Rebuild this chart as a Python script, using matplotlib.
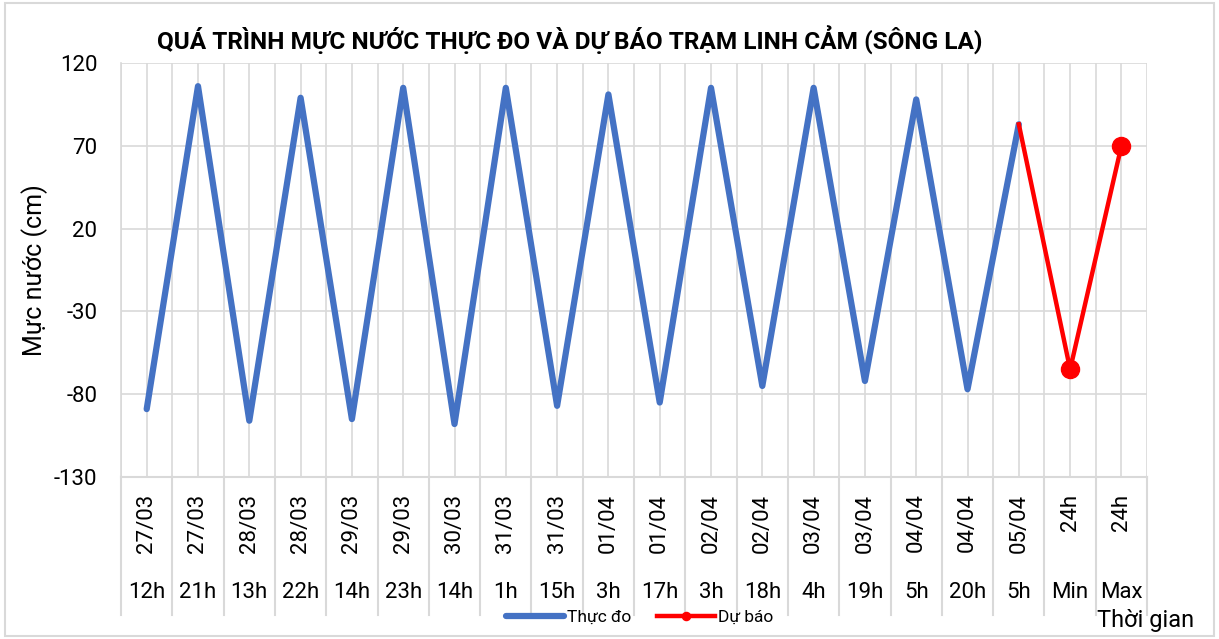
import numpy as np
import matplotlib
matplotlib.use("Agg")
import matplotlib.pyplot as plt
from matplotlib.patches import Rectangle

# font co dau tieng Viet
plt.rcParams["font.family"] = ["Roboto", "Noto Sans", "DejaVu Sans"]
plt.rcParams["axes.unicode_minus"] = False

# nhan truc hoanh (2 cap)
ngay = ["27/03", "27/03", "28/03", "28/03", "29/03", "29/03", "30/03", "31/03", "31/03", "01/04",
        "01/04", "02/04", "02/04", "03/04", "03/04", "04/04", "04/04", "05/04", "24h", "24h"]
gio = ["12h", "21h", "13h", "22h", "14h", "23h", "14h", "1h", "15h", "3h",
       "17h", "3h", "18h", "4h", "19h", "5h", "20h", "5h", "Min", "Max"]

# muc nuoc thuc do (cm)
thuc_do = [-89, 106, -96, 99, -95, 105, -98, 105, -87, 101,
           -85, 105, -75, 105, -72, 98, -77, 83]
# du bao: bat dau tu diem thuc do cuoi
du_bao = [83, -65, 70]

x = np.arange(len(ngay))
x_td = x[:len(thuc_do)]
x_db = x[len(thuc_do) - 1:]

fig = plt.figure(figsize=(12.19, 6.39), dpi=100)
ax = fig.add_axes([0.0993, 0.2535, 0.8417, 0.6479])

grid_color = "#d9d9d9"
ax.set_xlim(-0.5, len(ngay) - 0.5)
ax.set_ylim(-130, 120)
ax.set_yticks([120, 70, 20, -30, -80, -130])
ax.set_xticks(x)
ax.set_xticks(np.arange(-0.5, len(ngay)), minor=True)
ax.grid(True, which="major", color=grid_color, linewidth=1.2)
ax.grid(True, which="minor", axis="x", color=grid_color, linewidth=1.2)
ax.tick_params(axis="x", which="both", length=0, labelbottom=False)
ax.tick_params(axis="y", length=0, labelsize=16, pad=17)
for s in ["top", "right"]:
    ax.spines[s].set_visible(False)
ax.spines["left"].set_color(grid_color)
ax.spines["bottom"].set_color(grid_color)
ax.spines["left"].set_linewidth(1.2)
ax.spines["bottom"].set_linewidth(1.5)
ax.set_axisbelow(True)

ax.plot(x_td, thuc_do, color="#4472C4", linewidth=4.5, solid_joinstyle="round",
        solid_capstyle="round", label="Thực đo", zorder=3)
ax.plot(x_db, du_bao, color="#FF0000", linewidth=3.2, marker="o", markersize=13,
        markevery=[1, 2], label="Dự báo", zorder=4)

# khung nhan truc hoanh
trans = ax.get_xaxis_transform()
for b in np.arange(-0.5, len(ngay)):
    ax.plot([b, b], [0, -0.333], transform=trans, color=grid_color, linewidth=1.5, clip_on=False)
for i in range(len(ngay)):
    ax.text(i, -0.04, ngay[i], transform=trans, rotation=90, ha="center", va="top", fontsize=16)
    ax.text(i, -0.278, gio[i], transform=trans, ha="center", va="center", fontsize=16)

ax.set_ylabel("Mực nước (cm)", fontsize=18, labelpad=4)
fig.text(0.467, 0.937, "QUÁ TRÌNH MỰC NƯỚC THỰC ĐO VÀ DỰ BÁO TRẠM LINH CẢM (SÔNG LA)",
         ha="center", va="center", fontsize=17.6, fontweight="bold")
fig.text(0.98, 0.029, "Thời gian", ha="right", va="center", fontsize=17)

fig.legend(loc="center", bbox_to_anchor=(0.525, 0.034), ncol=2, frameon=False,
           fontsize=12.5, handlelength=3.3, handletextpad=0.2, columnspacing=1.5,
           markerscale=0.45)

# vien ngoai
fig.patches.append(Rectangle((0.004, 0.004), 0.992, 0.991, transform=fig.transFigure,
                             fill=False, edgecolor=grid_color, linewidth=1.5))

plt.savefig("out.png", dpi=100)
